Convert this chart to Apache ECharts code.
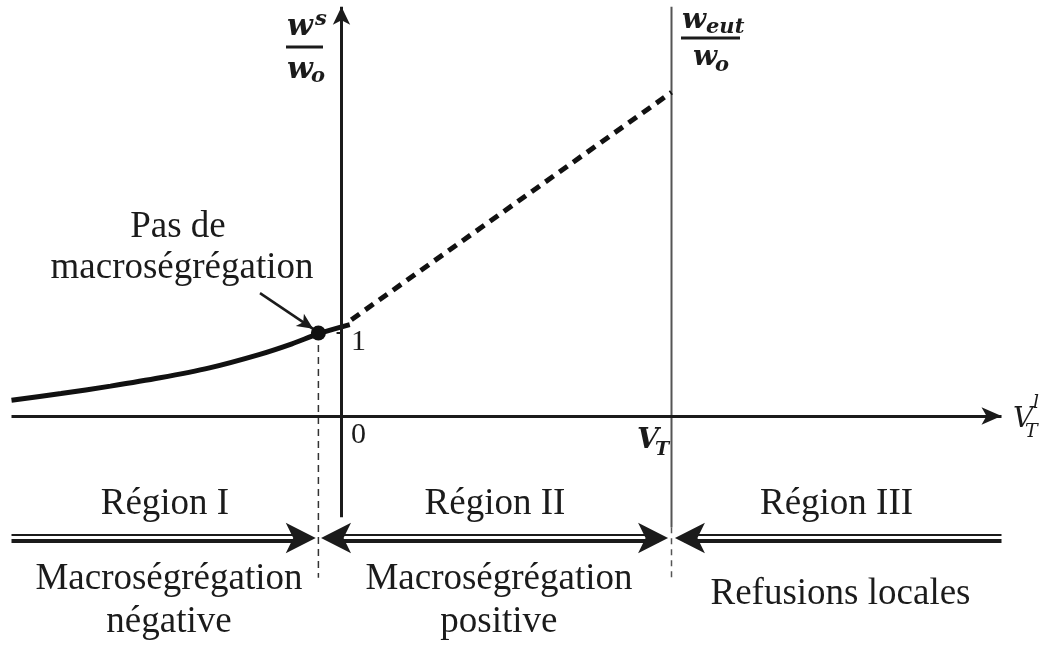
<!DOCTYPE html>
<html>
<head>
<meta charset="utf-8">
<script src="https://cdn.jsdelivr.net/npm/echarts@6/dist/echarts.min.js"></script>
<style>
  html, body { margin: 0; background: #fff; }
  #main { width: 1046px; height: 646px; }
</style>
</head>
<body>
<div id="main"></div>
<script>
// courbe w^s/w0 = f(V_T^l)
const curveX = [-10, -8.5, -7, -5.5, -4, -2.5, -1.5, -0.7, 0.25];
const curveY = [0.19, 0.27, 0.36, 0.46, 0.58, 0.74, 0.87, 0.99, 1.1];
// prolongement en pointillés jusqu'à V_T
const dashX = [0.3, 10];
const dashY = [1.16, 3.9];
// point "pas de macroségrégation"
const noSegX = -0.7;
const noSegY = 1;
const vT = 10;
// bornes des régions
const regionEdges = [-10, -0.7, 10, 20];
const regionNames = ['Région I', 'Région II', 'Région III'];
const regionNotes = [['Macroségrégation', 'négative'], ['Macroségrégation', 'positive'], ['Refusions locales']];
const yTickVals = [0, 1];
const yTickLabels = ['0', '1'];

const ink = '#1b1b1b';
const serif = '"Liberation Serif", "DejaVu Serif", serif';
const math = '"DejaVu Serif", serif';

const chart = echarts.init(document.getElementById('main'));

// niveau des doubles flèches (sous l'axe)
const arrowTop = -1.434, arrowBot = -1.506, arrowMid = -1.47;
const tipGap = 0.08;

function seg(x1, y1, x2, y2, style, z) {
  return {
    type: 'line', data: [[x1, y1], [x2, y2]], symbol: 'none', silent: true,
    lineStyle: Object.assign({ color: ink, width: 2 }, style), z: z || 2
  };
}

function arrowLine(from, to, size, width) {
  return [
    { coord: from, symbol: 'none' },
    { coord: to, symbol: 'arrow', symbolSize: size,
      lineStyle: { width: width, color: ink } }
  ];
}

const series = [];
// axe vertical V_T
series.push(seg(vT, -1.34, vT, 4.93, { width: 2, color: '#555' }));
series.push(seg(vT, -1.34, vT, -1.95, { width: 1.5, color: '#555', type: [6, 5] }));
// trait vertical pointillé sous le point
series.push(seg(noSegX, noSegY, noSegX, -1.95, { width: 1.5, color: '#333', type: [7, 5] }));
// graduation 1
series.push(seg(-0.15, 1, 0, 1, { width: 2 }));
// courbe
series.push({
  type: 'line', data: curveX.map((x, i) => [x, curveY[i]]), smooth: 0.3, symbol: 'none',
  lineStyle: { color: '#111', width: 5 }, z: 3, silent: true
});
series.push({
  type: 'line', data: dashX.map((x, i) => [x, dashY[i]]), symbol: 'none',
  lineStyle: { color: '#111', width: 5, type: [10, 7] }, z: 3, silent: true
});
// double traits des régions
for (let i = 0; i < regionNames.length; i++) {
  const a = regionEdges[i] + (i > 0 ? 0.4 : 0);
  const b = regionEdges[i + 1] - (i < regionNames.length - 1 ? 0.4 : 0);
  series.push(seg(a, arrowTop, b, arrowTop, { width: 2 }));
  series.push(seg(a, arrowBot, b, arrowBot, { width: 4 }));
}
// flèches (axes, régions, annotation)
const bigArrow = [23, 30];
const arrows = [
  arrowLine([0, -1.22], [0, 4.93], [13, 18], 3),
  arrowLine([-10, 0], [20, 0], [13, 20], 3),
  arrowLine([regionEdges[1] - 2, arrowMid], [regionEdges[1] - tipGap, arrowMid], bigArrow, 0),
  arrowLine([regionEdges[1] + 2, arrowMid], [regionEdges[1] + tipGap, arrowMid], bigArrow, 0),
  arrowLine([vT - 2, arrowMid], [vT - tipGap * 1.3, arrowMid], bigArrow, 0),
  arrowLine([vT + 2, arrowMid], [vT + tipGap * 1.3, arrowMid], bigArrow, 0),
  arrowLine([-2.47, 1.48], [-0.86, 1.05], [11, 16], 2.5)
];
series.push({
  type: 'line', data: [], silent: true,
  markLine: {
    silent: true, animation: false, symbol: ['none', 'none'],
    label: { show: false }, lineStyle: { color: ink, type: 'solid' },
    emphasis: { disabled: true },
    data: arrows
  },
  z: 4
});
// point
series.push({
  type: 'scatter', data: [[noSegX, noSegY]], symbolSize: 15,
  itemStyle: { color: '#111', opacity: 1 }, z: 5, silent: true
});

chart.setOption({
  animation: false,
  backgroundColor: '#fff',
  grid: { left: 11.5, right: 44.5, top: 1, bottom: 1.75 },
  xAxis: { type: 'value', min: -10, max: 20, show: false },
  yAxis: { type: 'value', min: -2.75, max: 5, show: false },
  series: series
});

function px(x, y) { return chart.convertToPixel({ gridIndex: 0 }, [x, y]); }

// texte positionné par sa ligne de base
function txt(s, x, base, size, opt) {
  opt = opt || {};
  return {
    type: 'text', x: x, y: base - 0.34 * size, silent: true, z: 10,
    style: {
      text: s, fill: ink, fontSize: size,
      fontFamily: opt.family || serif,
      fontStyle: opt.italic ? 'italic' : 'normal',
      fontWeight: opt.bold ? 'bold' : 'normal',
      align: opt.align || 'center', textAlign: opt.align || 'center',
      verticalAlign: 'middle', textVerticalAlign: 'middle'
    }
  };
}
function bar(x1, x2, y) {
  return { type: 'rect', shape: { x: x1, y: y - 1.5, width: x2 - x1, height: 3 }, style: { fill: ink }, silent: true };
}
const mb = { family: math, bold: true, italic: true, align: 'left' };
const mi = { family: math, italic: true, align: 'left' };

const g = [];
// w^s / w_o
g.push(txt('w', 287, 37, 30, mb), txt('s', 315, 27, 21, mb), bar(286, 323, 47),
  txt('w', 287, 80, 30, mb), txt('o', 311, 84, 21, mb));
// w_eut / w_o
g.push(txt('w', 682, 30, 28, mb), txt('eut', 706, 35, 21, mb), bar(681, 740, 38),
  txt('w', 693, 67, 28, mb), txt('o', 715, 73, 21, mb));
// V_T sous l'axe
g.push(txt('V', 637, 450, 28, mb), txt('T', 655, 457, 19, mb));
// V_T^l en bout d'axe
g.push(txt('V', 1013, 429, 28, mi), txt('l', 1033, 410, 19, mi), txt('T', 1025, 439, 19, mi));
// graduations
yTickVals.forEach((v, i) => {
  const p = px(0, v);
  g.push(txt(yTickLabels[i], p[0] + 17, v === 0 ? p[1] + 29 : p[1] + 19, 30));
});
// annotation
g.push(txt('Pas de', 178, 240, 37), txt('macroségrégation', 182, 281, 37));
// régions
const noteBase = [[592, 635], [592, 635], [607]];
regionNames.forEach((name, i) => {
  const cx = px((regionEdges[i] + regionEdges[i + 1]) / 2, 0)[0];
  g.push(txt(name, cx, 517, 37));
  regionNotes[i].forEach((line, j) => g.push(txt(line, cx + 4, noteBase[i][j], 37)));
});

chart.setOption({ graphic: g });
</script>
</body>
</html>
